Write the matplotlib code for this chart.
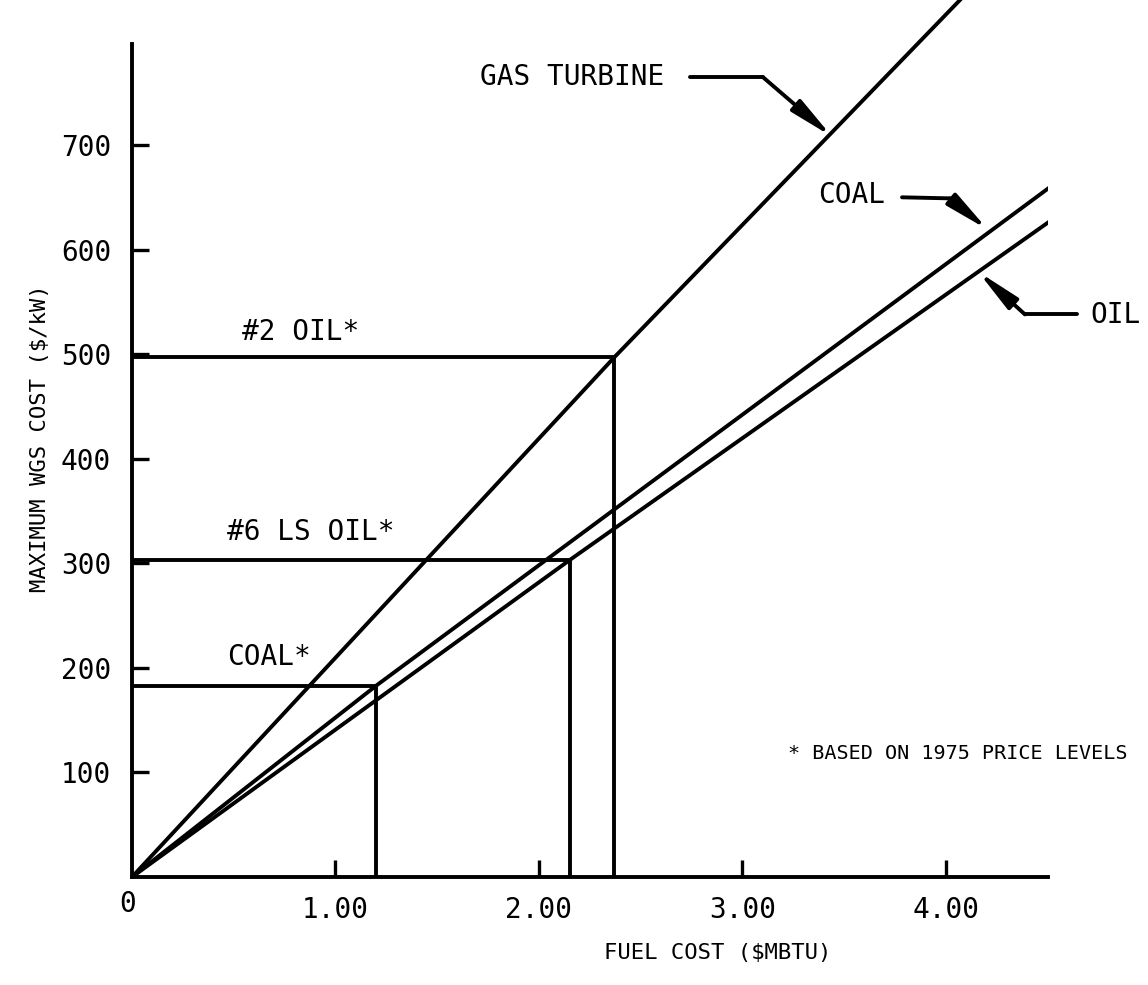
import matplotlib
matplotlib.use("Agg")
import matplotlib.pyplot as plt

# --- data ---
gas_x = [0, 2.37, 4.10]
gas_y = [0, 497, 845]
coal_x = [0, 1.20, 4.575]
coal_y = [0, 183, 669]
oil_x = [0, 2.15, 4.575]
oil_y = [0, 303, 636]

# fuel price points (1975 levels) and resulting max WGS cost
fuel_names = ["COAL*", "#6 LS OIL*", "#2 OIL*"]
fuel_price = [1.20, 2.15, 2.37]
fuel_wgs = [183, 303, 497]

x_ticks = [1, 2, 3, 4]
x_ticklabels = ["1.00", "2.00", "3.00", "4.00"]
y_ticks = [100, 200, 300, 400, 500, 600, 700]

# typewriter-like lettering of the original drawing
plt.rcParams["font.family"] = ["DejaVu Sans Mono", "DejaVu Sans"]

LW = 2.8
FS = 20

fig = plt.figure(figsize=(11.48, 9.85), dpi=100)
ax = fig.add_axes([132 / 1148, 108 / 985, 915.75 / 1148, 877 / 985])
ax.set_xlim(0, 4.5)
ax.set_ylim(0, 838.7)

# main curves
for xs, ys in [(gas_x, gas_y), (coal_x, coal_y), (oil_x, oil_y)]:
    ax.plot(xs, ys, color="black", lw=LW, solid_capstyle="round", solid_joinstyle="round")

# fuel price boxes
for name, px, py in zip(fuel_names, fuel_price, fuel_wgs):
    ax.plot([0, px, px], [py, py, 0], color="black", lw=LW)

ax.text(0.54, 521, "#2 OIL*", fontsize=FS, va="center", ha="left")
ax.text(0.467, 330, "#6 LS OIL*", fontsize=FS, va="center", ha="left")
ax.text(0.467, 210, "COAL*", fontsize=FS, va="center", ha="left")

# curve labels with bent arrows
arrow_kw = dict(arrowstyle="-|>,head_length=1.3,head_width=0.22", color="black",
                lw=LW, mutation_scale=20, shrinkA=0, shrinkB=0)

ax.text(1.71, 765, "GAS TURBINE", fontsize=FS, va="center", ha="left")
ax.plot([2.742, 3.10], [765, 765], color="black", lw=LW, solid_capstyle="round")
ax.annotate("", xy=(3.44, 708), xytext=(3.10, 765), arrowprops=arrow_kw)

ax.text(3.371, 652, "COAL", fontsize=FS, va="center", ha="left")
ax.plot([3.784, 4.02], [650, 649], color="black", lw=LW, solid_capstyle="round")
ax.annotate("", xy=(4.206, 619), xytext=(4.02, 649), arrowprops=arrow_kw)

ax.text(4.708, 537, "OIL", fontsize=FS, va="center", ha="left", clip_on=False)
ax.plot([4.644, 4.388], [538, 538], color="black", lw=LW, solid_capstyle="round", clip_on=False)
ax.annotate("", xy=(4.157, 579), xytext=(4.388, 538), arrowprops=arrow_kw)

ax.text(4.89, 118, "* BASED ON 1975 PRICE LEVELS", fontsize=14.5, va="center", ha="right",
        clip_on=False)

# axes styling
for s in ["top", "right"]:
    ax.spines[s].set_visible(False)
for s in ["left", "bottom"]:
    ax.spines[s].set_linewidth(LW)
ax.spines["left"].set_bounds(0, 797)

ax.set_xticks(x_ticks)
ax.set_xticklabels(x_ticklabels)
ax.set_yticks(y_ticks)
ax.tick_params(direction="in", length=12, width=2.4, labelsize=FS, pad=14)
ax.tick_params(axis="y", pad=15)
ax.text(-0.02, -12, "0", fontsize=FS, ha="center", va="top")

ax.set_xlabel("FUEL COST ($MBTU)", fontsize=16)
ax.xaxis.set_label_coords(0.64, -0.075)
ax.set_ylabel("MAXIMUM WGS COST ($/kW)", fontsize=16, labelpad=8)

fig.savefig("out.png", dpi=100)
